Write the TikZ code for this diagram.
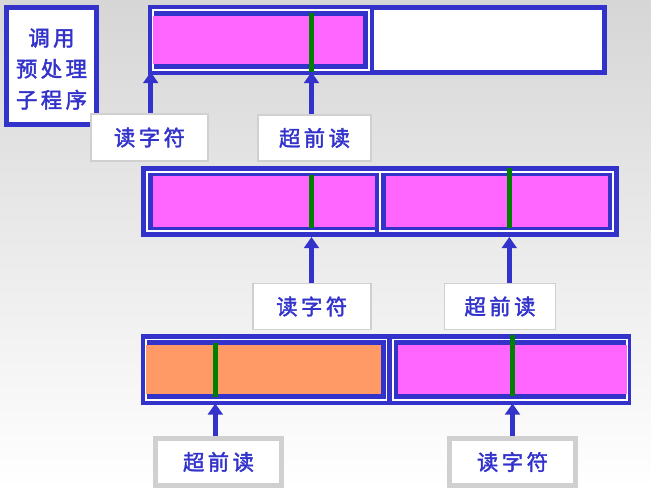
\documentclass[tikz,border=0pt]{standalone}
\usepackage{fontspec}
\newfontfamily\cjk[FakeBold=2]{Noto Sans CJK SC}
\usetikzlibrary{arrows.meta}
\definecolor{bl}{HTML}{3333CC}
\definecolor{mag}{HTML}{FF66FF}
\definecolor{org}{HTML}{FF9966}
\definecolor{grn}{HTML}{008000}
\definecolor{gry}{HTML}{D0D0D0}
\definecolor{bgtop}{HTML}{D6D6D6}
\newcommand\lsp{\hspace{2.6pt}}
\tikzset{
  bufrow/.style={fill=bl,draw=none,inner sep=0pt,outer sep=0pt},
  wline/.style={draw=white,line width=0.9pt},
  gline/.style={draw=grn,line width=3.4pt},
  arr/.style={draw=bl,line width=3.5pt,-{Triangle[width=11pt,length=8.3pt]}},
  txt/.style={font=\cjk\fontsize{16pt}{18pt}\selectfont,text=bl},
  labthin/.style={txt,draw=gry,line width=1.4pt,fill=white,inner sep=0pt},
  labthick/.style={txt,draw=gry,line width=3.75pt,fill=white,inner sep=0pt},
}
\begin{document}
\begin{tikzpicture}[x=0.75pt,y=-0.75pt]
\useasboundingbox (0,0) rectangle (651,489);
\shade[top color=bgtop,bottom color=white] (0,0) rectangle (651,489);

% call box
\node[draw=bl,line width=3.75pt,fill=white,inner sep=0pt,
      minimum width=90*0.75pt,minimum height=117*0.75pt] (call) at (51.5,66) {};
\node[txt,align=center,inner sep=0pt,
      font=\cjk\fontsize{16pt}{23.25pt}\selectfont] (calltxt) at (51.5,69)
  {调\lsp 用\\预\lsp 处\lsp 理\\子\lsp 程\lsp 序};

% top buffer
\node[bufrow,minimum width=459*0.75pt,minimum height=70*0.75pt] (b1) at (377.5,40) {};
\draw[wline] (153,10) rectangle (369,70);
\fill[mag] (153,16) rectangle (363,64);
\fill[white] (374,10) rectangle (602,70);
\draw[gline] (311.5,13) -- (311.5,72);

% middle buffer
\node[bufrow,minimum width=478*0.75pt,minimum height=71*0.75pt] (b2) at (380,201.5) {};
\draw[wline] (375,231) -- (147,231) -- (147,172) -- (380,172);
\draw[wline] (380,172) rectangle (613,231);
\fill[mag] (153,176) rectangle (375,227);
\fill[mag] (386,176) rectangle (608,227);
\draw[gline] (311.3,175) -- (311.3,228);
\draw[gline] (509.3,168) -- (509.3,228);

% bottom buffer
\node[bufrow,minimum width=490*0.75pt,minimum height=71*0.75pt] (b3) at (386,369.5) {};
\draw[wline] (146,339.5) rectangle (386.5,400);
\draw[wline] (393,339.5) rectangle (627,400);
\fill[org] (146,345) rectangle (381,394);
\fill[mag] (398,345) rectangle (627,394);
\draw[gline] (215.3,343) -- (215.3,396.5);
\draw[gline] (512.5,335) -- (512.5,396);

% labels
\node[labthin,minimum width=117*0.75pt,minimum height=47*0.75pt] (l1) at (149.5,137.5) {读\lsp 字\lsp 符};
\node[labthin,minimum width=113*0.75pt,minimum height=46*0.75pt] (l2) at (314.5,138) {超\lsp 前\lsp 读};
\node[labthin,minimum width=118*0.75pt,minimum height=46*0.75pt] (l3) at (311.7,306.5) {读\lsp 字\lsp 符};
\node[labthin,minimum width=111*0.75pt,minimum height=46*0.75pt] (l4) at (500,306.5) {超\lsp 前\lsp 读};
\node[labthick,minimum width=126*0.75pt,minimum height=47*0.75pt] (l5) at (218.5,462) {超\lsp 前\lsp 读};
\node[labthick,minimum width=126*0.75pt,minimum height=47*0.75pt] (l6) at (512.5,462) {读\lsp 字\lsp 符};

% arrow tips
\coordinate (a1) at (150.7,72);
\coordinate (a2) at (311.5,72);
\coordinate (a3) at (311.5,237);
\coordinate (a4) at (509.3,237);
\coordinate (a5) at (215.3,403.5);
\coordinate (a6) at (512.5,403.5);

\draw[arr] (l1.north -| a1) -- (a1);
\draw[arr] (l2.north -| a2) -- (a2);
\draw[arr] (l3.north -| a3) -- (a3);
\draw[arr] (l4.north -| a4) -- (a4);
\draw[arr] (l5.north -| a5) -- (a5);
\draw[arr] (l6.north -| a6) -- (a6);
\end{tikzpicture}
\end{document}
